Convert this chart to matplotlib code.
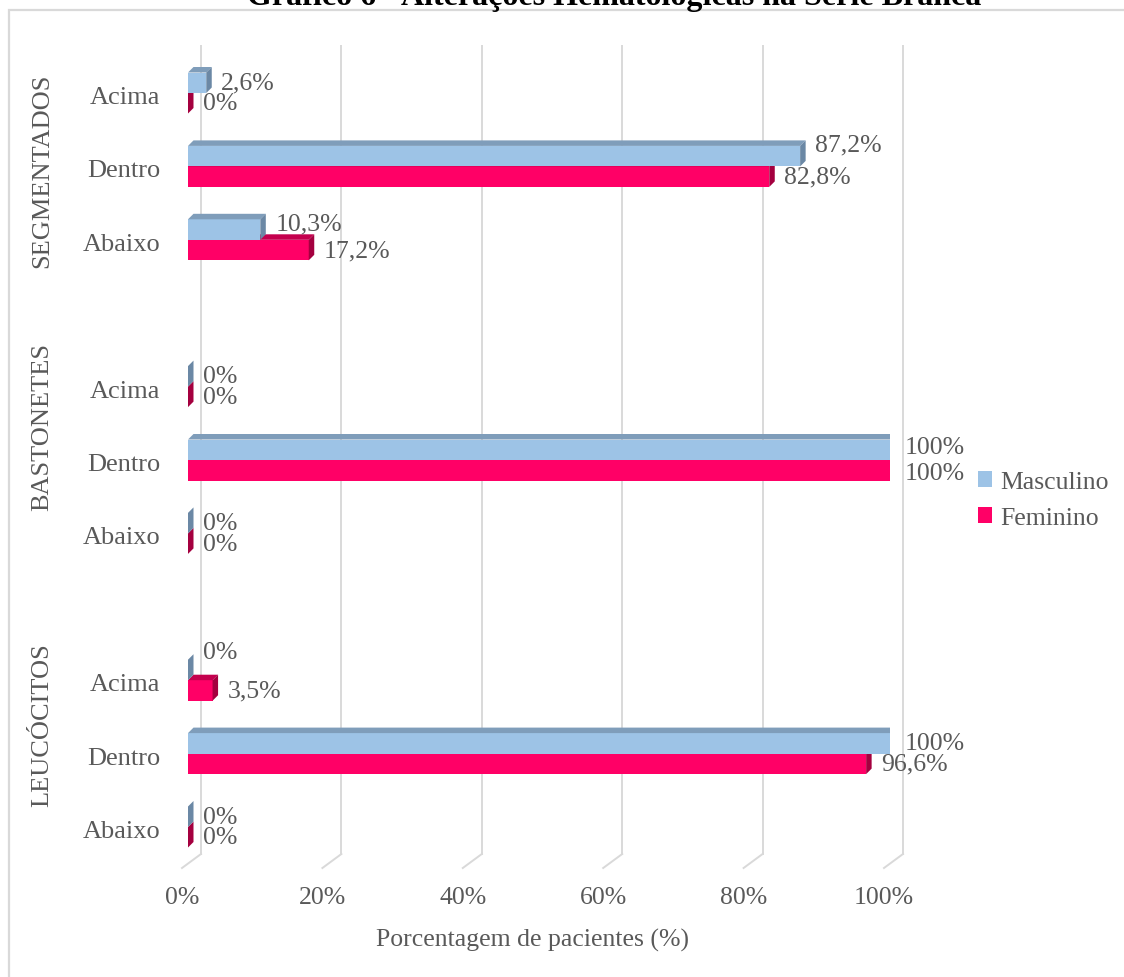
import matplotlib
matplotlib.use("Agg")
import matplotlib.pyplot as plt
from matplotlib.patches import Polygon, Rectangle, Patch

plt.rcParams['font.family'] = ['Liberation Serif', 'DejaVu Serif']

# ---------------- data ----------------
TITLE = "Gráfico 6 - Alterações Hematológicas na Série Branca"
GROUPS = ["SEGMENTADOS", "BASTONETES", "LEUCÓCITOS"]
CATEGORIES = ["Acima", "Dentro", "Abaixo"]
SERIES = ["Masculino", "Feminino"]
MASCULINO = [[2.6, 87.2, 10.3],
             [0.0, 100.0, 0.0],
             [0.0, 100.0, 0.0]]
FEMININO = [[0.0, 82.8, 17.2],
            [0.0, 100.0, 0.0],
            [3.5, 96.6, 0.0]]
XTICKS = [0, 20, 40, 60, 80, 100]
XLABEL = "Porcentagem de pacientes (%)"

# ---------------- style / layout ----------------
W, H = 1124, 978
TEXT = '#595959'
GRID = '#D9D9D9'
COLORS = {
    "Masculino": dict(front='#9DC3E6', top='#7F9DBA', side='#6B88A5'),
    "Feminino": dict(front='#FF0066', top='#C4004E', side='#A4003F'),
}
FS = 18.5
AX_L, AX_R = 188, 890          # pixel x of 0% and 100% (front plane)
PX_PCT = (AX_R - AX_L) / 100.0
Y0, PX_SLOT = 98, 73.4         # pixel y of first category, slot spacing
AX_TOP, AX_BOT = 47, 870
BAR_PX = 20.5
BAR_SHIFT = -4
DEPTH = 5.5
# pixel nudges of data labels (auto-placement of the original tool)
NUDGE = {(0, 1, 0): -12, (0, 2, 0): -6, (2, 0, 0): -18, (1, 1, 0): -3, (1, 1, 1): 3}


def sy(px):
    return (px - Y0) / PX_SLOT


def dx(px):
    return px / PX_PCT


def fmt(v):
    if abs(v - round(v)) < 1e-9:
        return f"{int(round(v))}%"
    return f"{v:.1f}".replace('.', ',') + "%"


fig = plt.figure(figsize=(W / 100, H / 100), dpi=100)
fig.patches.append(Rectangle((9 / W, -0.1), 1.2, 1 - 11 / H + 0.1, transform=fig.transFigure,
                             fill=False, edgecolor=GRID, linewidth=1.6, zorder=0))
fig.text(614 / W, 1 - 5 / H, TITLE, ha='center', va='baseline', fontsize=23,
         fontweight='bold', color='black')

ax = fig.add_axes([AX_L / W, 1 - AX_BOT / H, (AX_R - AX_L) / W, (AX_BOT - AX_TOP) / H])
ax.set_xlim(0, 100)
ax.set_ylim(sy(AX_BOT), sy(AX_TOP))
ax.axis('off')

# back wall gridlines and floor
back_off = dx(13)
front_off = dx(-6)
for v in XTICKS:
    ax.plot([v + back_off, v + back_off], [sy(AX_TOP), sy(855)], color=GRID, lw=1.4,
            clip_on=False, zorder=1)
    ax.plot([v + back_off, v + front_off], [sy(855), sy(869)], color=GRID, lw=1.4,
            clip_on=False, zorder=1)
    ax.text(v + front_off, sy(898), f"{v}%", ha='center', va='center', fontsize=FS,
            color=TEXT, clip_on=False)

ddx, ddy = dx(DEPTH), DEPTH / PX_SLOT
h = BAR_PX / PX_SLOT

for g, grp in enumerate(GROUPS):
    for k, cat in enumerate(CATEGORIES):
        s = 4 * g + k
        c = s + BAR_SHIFT / PX_SLOT
        ax.text(dx(160 - AX_L), s, cat, ha='right', va='center', fontsize=19,
                color=TEXT, clip_on=False)
        vals = {"Masculino": MASCULINO[g][k], "Feminino": FEMININO[g][k]}
        # draw Feminino (lower) first, then Masculino on top
        for si, name in [(1, "Feminino"), (0, "Masculino")]:
            v = vals[name]
            col = COLORS[name]
            y0 = c - h if si == 0 else c
            y1 = y0 + h
            z = 3 + (1 - si) * 3
            ax.barh(y0, v, height=h, align='edge', color=col['front'], linewidth=0, zorder=z)
            ax.add_patch(Polygon([(0, y0), (ddx, y0 - ddy), (v + ddx, y0 - ddy), (v, y0)],
                                 closed=True, facecolor=col['top'], edgecolor='none', zorder=z))
            ax.add_patch(Polygon([(v, y0), (v + ddx, y0 - ddy), (v + ddx, y1 - ddy), (v, y1)],
                                 closed=True, facecolor=col['side'], edgecolor='none', zorder=z + 1))
            ny = NUDGE.get((g, k, si), 0) / PX_SLOT
            ax.text(v + dx(15), (y0 + y1) / 2 + ny, fmt(v), ha='left', va='center',
                    fontsize=FS, color=TEXT, zorder=10, clip_on=False)

for grp, yc in zip(GROUPS, [171, 427, 725]):
    fig.text(42 / W, 1 - yc / H, grp, rotation=90, ha='center', va='center', fontsize=19,
             color=TEXT)

fig.text(533 / W, 1 - 940 / H, XLABEL, ha='center', va='center', fontsize=FS, color=TEXT)

handles = [Patch(facecolor=COLORS[n]['front'], edgecolor='none', label=n) for n in SERIES]
fig.legend(handles=handles, loc='center left', bbox_to_anchor=(968 / W, 1 - 501 / H),
           frameon=False, fontsize=FS, handlelength=0.55, handleheight=0.55,
           handletextpad=0.3, labelspacing=0.55, labelcolor=TEXT, borderaxespad=0)

fig.savefig('out.png', dpi=100)
